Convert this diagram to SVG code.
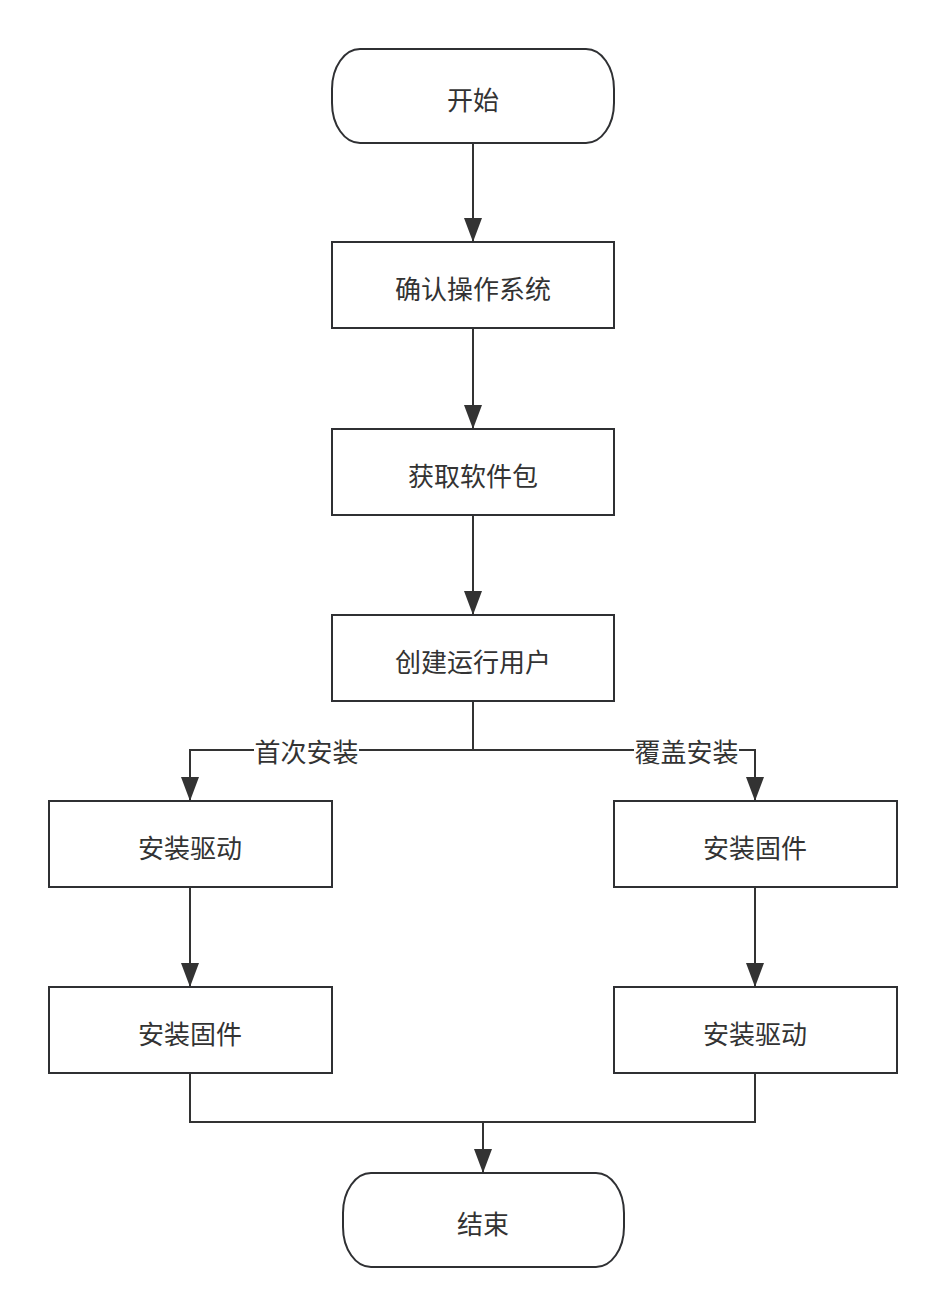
<svg xmlns="http://www.w3.org/2000/svg" width="946" height="1316" viewBox="0 0 946 1316">
<defs>
<style>
.n{fill:#fff;stroke:#2f3033;stroke-width:2}
.t{font-family:"Noto Sans CJK SC","Noto Sans",sans-serif;font-size:26px;fill:#333;text-anchor:middle;dominant-baseline:central}
.l{font-family:"Noto Sans CJK SC","Noto Sans",sans-serif;font-size:26px;fill:#333;text-anchor:middle;dominant-baseline:central}
.c{fill:none;stroke:#333;stroke-width:2}
</style>
<marker id="d" markerUnits="userSpaceOnUse" markerWidth="24" markerHeight="18" refX="24" refY="9" orient="auto" viewBox="0 0 24 18">
<path d="M0,0 L24,9 L0,18 Z" fill="#333"/>
</marker>
</defs>
<rect width="946" height="1316" fill="#fff"/>
<g id="connectors">
<path class="c" d="M473,143 V242" marker-end="url(#d)"/>
<path class="c" d="M473,328 V429" marker-end="url(#d)"/>
<path class="c" d="M473,515 V615" marker-end="url(#d)"/>
<path class="c" d="M473,701 V750 H190 V801" marker-end="url(#d)"/>
<path class="c" d="M473,750 H755 V801" marker-end="url(#d)"/>
<path class="c" d="M190,887 V987" marker-end="url(#d)"/>
<path class="c" d="M755,887 V987" marker-end="url(#d)"/>
<path class="c" d="M190,1073 V1122 H755 V1073"/>
<path class="c" d="M483,1122 V1173" marker-end="url(#d)"/>
<rect x="254" y="736" width="105" height="28" fill="#fff"/>
<text class="l" x="306.5" y="750">首次安装</text>
<rect x="634" y="736" width="105" height="28" fill="#fff"/>
<text class="l" x="686.5" y="750">覆盖安装</text>
</g>
<g id="start"><rect class="n" x="332" y="49" width="282" height="94" rx="28" ry="40"/><text class="t" x="473" y="98">开始</text></g>
<g id="confirm-os"><rect class="n" x="332" y="242" width="282" height="86"/><text class="t" x="473" y="287">确认操作系统</text></g>
<g id="get-package"><rect class="n" x="332" y="429" width="282" height="86"/><text class="t" x="473" y="474">获取软件包</text></g>
<g id="create-user"><rect class="n" x="332" y="615" width="282" height="86"/><text class="t" x="473" y="660">创建运行用户</text></g>
<g id="left-driver"><rect class="n" x="49" y="801" width="283" height="86"/><text class="t" x="190" y="846">安装驱动</text></g>
<g id="left-firmware"><rect class="n" x="49" y="987" width="283" height="86"/><text class="t" x="190" y="1032">安装固件</text></g>
<g id="right-firmware"><rect class="n" x="614" y="801" width="283" height="86"/><text class="t" x="755" y="846">安装固件</text></g>
<g id="right-driver"><rect class="n" x="614" y="987" width="283" height="86"/><text class="t" x="755" y="1032">安装驱动</text></g>
<g id="end"><rect class="n" x="343" y="1173" width="281" height="94" rx="28" ry="40"/><text class="t" x="483" y="1222">结束</text></g>
</svg>
